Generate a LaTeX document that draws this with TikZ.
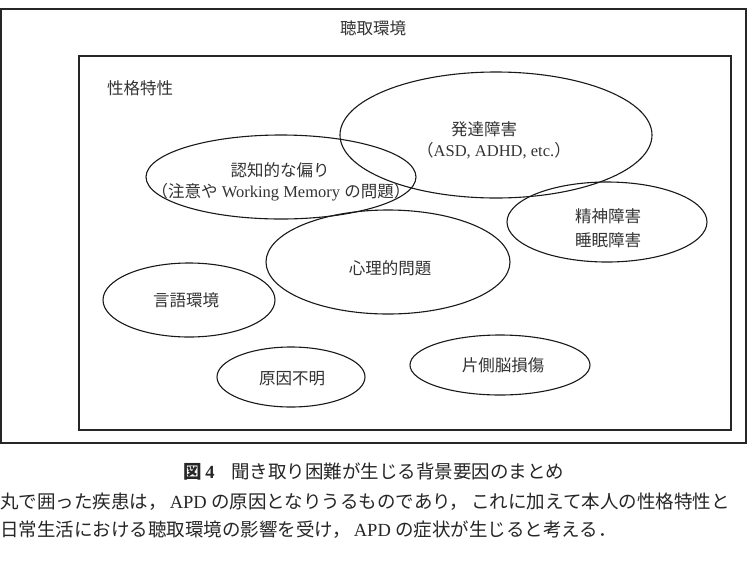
\documentclass[tikz,border=0pt]{standalone}
\usepackage{fontspec}
\setmainfont{Liberation Serif}
\newfontfamily\cjk{Noto Sans CJK JP}
\begin{document}
\begin{tikzpicture}[x=1pt,y=-1pt,
  frame/.style={draw=black!85,line width=1.1pt},
  blob/.style={draw=black!90,line width=1.1pt},
  lbl/.style={font=\fontsize{16.5}{20}\selectfont,text=black!80,align=center,inner sep=0pt},
  captext/.style={font=\fontsize{18.5}{22}\selectfont,text=black!85,inner sep=0pt}]
\useasboundingbox (0,0) rectangle (750,566);
\fill[white] (0,0) rectangle (750,566);
% frames
\draw[frame] (1,9) rectangle (746,443);
\draw[frame] (79,56) rectangle (731,430);
\node[lbl] (env) at (373,28) {\cjk 聴取環境};
\node[lbl,anchor=west] (pers) at (107,88) {\cjk 性格特性};
% ellipses
\draw[blob] (496,135) ellipse [x radius=156, y radius=63];
\draw[blob] (281,177) ellipse [x radius=135, y radius=42];
\draw[blob] (607,222) ellipse [x radius=100, y radius=40];
\draw[blob] (388,262) ellipse [x radius=122, y radius=52];
\draw[blob] (189,300) ellipse [x radius=86, y radius=37];
\draw[blob] (291,377) ellipse [x radius=74, y radius=30];
\draw[blob] (500,365) ellipse [x radius=90, y radius=30];
% labels
\node[lbl] (dev1) at (484,129) {\cjk 発達障害};
\node[lbl] (dev2) at (494,151) {{\cjk （}ASD, ADHD, etc.{\cjk ）}};
\node[lbl] (cog1) at (280,170) {\cjk 認知的な偏り};
\node[lbl] (cog2) at (281,192) {{\cjk （注意や} Working Memory {\cjk の問題）}};
\node[lbl] (men1) at (608,216) {\cjk 精神障害};
\node[lbl] (men2) at (608,240) {\cjk 睡眠障害};
\node[lbl] (psy) at (390,268) {\cjk 心理的問題};
\node[lbl] (lang) at (186,300) {\cjk 言語環境};
\node[lbl] (unk) at (292,379) {\cjk 原因不明};
\node[lbl] (brain) at (503,365) {\cjk 片側脳損傷};
% caption
\node[captext] (c0) at (374,472) {{\cjk\bfseries 図}\,\textbf{4}\hspace{0.9em}{\cjk 聞き取り困難が生じる背景要因のまとめ}};
\node[captext,anchor=west] (c1) at (0,502) {{\cjk 丸で囲った疾患は，}\,APD {\cjk の原因となりうるものであり，\,これに加えて本人の性格特性と}};
\node[captext,anchor=west] (c2) at (0,530) {{\cjk 日常生活における聴取環境の影響を受け，}\,APD {\cjk の症状が生じると考える．}};
\end{tikzpicture}
\end{document}
